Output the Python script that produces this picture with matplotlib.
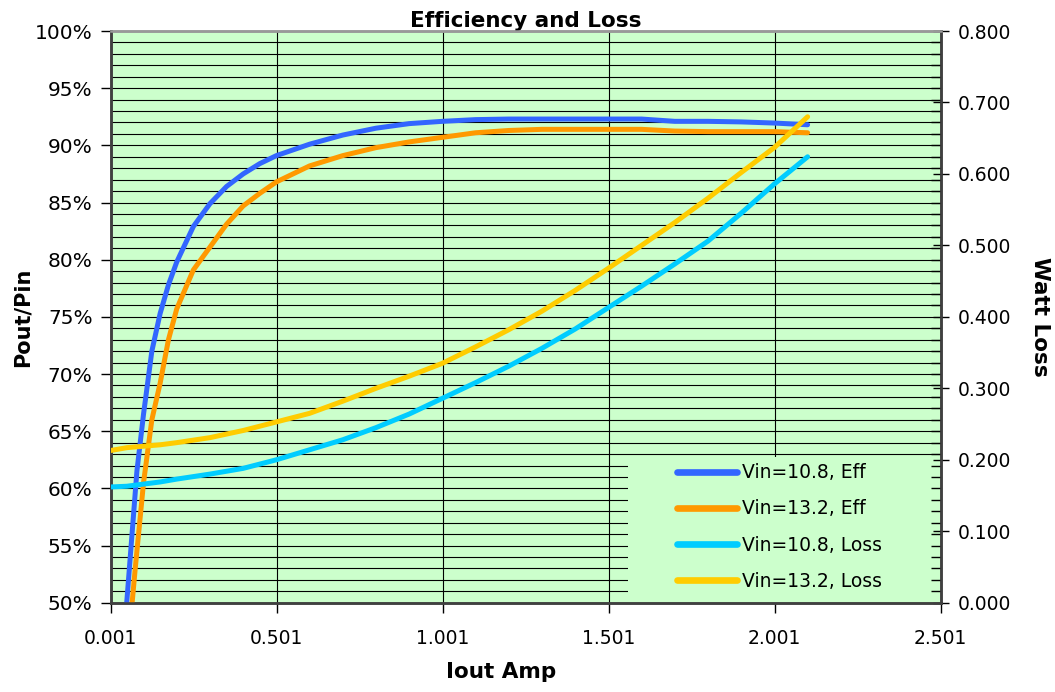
import matplotlib
matplotlib.use('Agg')
import matplotlib.pyplot as plt
from matplotlib.ticker import MultipleLocator, FuncFormatter
from matplotlib.patches import Rectangle

plt.rcParams['font.family'] = ['DejaVu Sans']

# ---------------- data ----------------
x_eff_108 = [0.04, 0.06, 0.08, 0.10, 0.125, 0.15, 0.175, 0.20, 0.25, 0.30, 0.35, 0.40, 0.45, 0.50,
             0.60, 0.70, 0.80, 0.90, 1.00, 1.10, 1.20, 1.30, 1.40, 1.50, 1.60, 1.70, 1.80, 1.90, 2.00, 2.10]
eff_108 = [46.5, 54.0, 61.5, 66.5, 72.0, 75.3, 77.8, 79.8, 82.9, 84.9, 86.4, 87.5, 88.4, 89.1,
           90.1, 90.9, 91.5, 91.9, 92.1, 92.25, 92.3, 92.3, 92.3, 92.3, 92.3, 92.1, 92.1, 92.05, 91.95, 91.8]

x_eff_132 = [0.05, 0.075, 0.10, 0.125, 0.15, 0.175, 0.20, 0.25, 0.30, 0.35, 0.40, 0.45, 0.50,
             0.60, 0.70, 0.80, 0.90, 1.00, 1.10, 1.20, 1.30, 1.40, 1.50, 1.60, 1.70, 1.80, 1.90, 2.00, 2.10]
eff_132 = [45.0, 53.0, 60.5, 66.0, 69.2, 73.0, 75.7, 79.1, 81.1, 83.1, 84.7, 85.8, 86.8,
           88.2, 89.1, 89.8, 90.3, 90.7, 91.1, 91.3, 91.4, 91.4, 91.4, 91.4, 91.25, 91.2, 91.2, 91.2, 91.1]

x_loss = [0.001, 0.05, 0.10, 0.15, 0.20, 0.30, 0.40, 0.50, 0.60, 0.70, 0.80, 0.90, 1.00,
          1.10, 1.20, 1.30, 1.40, 1.50, 1.60, 1.70, 1.80, 1.90, 2.00, 2.10]
loss_108 = [0.162, 0.163, 0.166, 0.169, 0.173, 0.180, 0.188, 0.200, 0.214, 0.228, 0.245, 0.264, 0.286,
            0.308, 0.331, 0.356, 0.383, 0.413, 0.443, 0.474, 0.506, 0.545, 0.586, 0.624]
loss_132 = [0.213, 0.217, 0.219, 0.221, 0.224, 0.231, 0.241, 0.253, 0.265, 0.282, 0.300, 0.317, 0.335,
            0.358, 0.382, 0.408, 0.437, 0.468, 0.500, 0.532, 0.566, 0.602, 0.637, 0.680]

x_ticks = [0.001, 0.501, 1.001, 1.501, 2.001, 2.501]
x_tick_labels = ['0.001', '0.501', '1.001', '1.501', '2.001', '2.501']
series_labels = ['Vin=10.8, Eff', 'Vin=13.2, Eff', 'Vin=10.8, Loss', 'Vin=13.2, Loss']
colors = ['#3366FF', '#FF9900', '#00CCFF', '#FFCC00']

# ---------------- figure ----------------
fig = plt.figure(figsize=(10.55, 6.92), dpi=100)
ax = fig.add_axes([0.1049, 0.129, 0.7868, 0.8262])
ax.set_facecolor('#CCFFCC')

lw = 3.6
l1, = ax.plot(x_eff_108, eff_108, color=colors[0], lw=lw, zorder=3, solid_capstyle='round', label=series_labels[0])
l2, = ax.plot(x_eff_132, eff_132, color=colors[1], lw=lw, zorder=3, solid_capstyle='round', label=series_labels[1])

ax.set_xlim(0.001, 2.501)
ax.set_ylim(50, 100)
ax.set_xticks(x_ticks)
ax.set_xticklabels(x_tick_labels)
ax.yaxis.set_major_locator(MultipleLocator(5))
ax.yaxis.set_minor_locator(MultipleLocator(1))
ax.yaxis.set_major_formatter(FuncFormatter(lambda v, p: f'{v:.0f}%'))
ax.grid(True, which='both', axis='y', color='black', lw=0.8)
ax.grid(True, which='major', axis='x', color='black', lw=0.8)
ax.tick_params(axis='y', which='minor', length=0)
ax.tick_params(axis='both', which='major', direction='out', length=7, width=1, color='black')
ax.tick_params(axis='y', labelsize=14.5, pad=6)
ax.tick_params(axis='x', labelsize=13.5, pad=12)

# legend background (hides gridlines)
ax.add_patch(Rectangle((0.623, 0.0), 0.377, 0.255, transform=ax.transAxes,
                       facecolor='#CCFFCC', edgecolor='none', zorder=1.8))

ax2 = ax.twinx()
l3, = ax2.plot(x_loss, loss_108, color=colors[2], lw=lw, zorder=3, solid_capstyle='round', label=series_labels[2])
l4, = ax2.plot(x_loss, loss_132, color=colors[3], lw=lw, zorder=3, solid_capstyle='round', label=series_labels[3])
ax2.set_ylim(0, 0.8)
ax2.yaxis.set_major_locator(MultipleLocator(0.1))
ax2.yaxis.set_minor_locator(MultipleLocator(0.016))
ax2.yaxis.set_major_formatter(FuncFormatter(lambda v, p: f'{v:.3f}'))
ax2.tick_params(axis='y', which='major', direction='inout', length=12, width=1, labelsize=13.5, pad=6)
ax2.tick_params(axis='y', which='minor', direction='in', length=7, width=1)

for a in (ax, ax2):
    for s in ('left', 'bottom', 'right'):
        a.spines[s].set_color('#404040')
        a.spines[s].set_linewidth(1.8)
    a.spines['top'].set_color('#999999')
    a.spines['top'].set_linewidth(1.8)

ax.set_title('Efficiency and Loss', fontsize=15.5, fontweight='bold', pad=3)
ax.set_xlabel('Iout Amp', fontsize=15.5, fontweight='bold')
ax.xaxis.set_label_coords(0.470, -0.104)
ax.set_ylabel('Pout/Pin', fontsize=15, fontweight='bold')
ax.yaxis.set_label_coords(-0.094, 0.5)
ax2.set_ylabel('Watt Loss', fontsize=15.5, fontweight='bold', rotation=270, va='center')
ax2.yaxis.set_label_coords(1.12, 0.5)

leg = ax2.legend(handles=[l1, l2, l3, l4], loc='upper left', bbox_to_anchor=(0.682, 0.244),
                 frameon=False, fontsize=13.5, handlelength=3.2, handletextpad=0.3,
                 labelspacing=0.92, borderpad=0, borderaxespad=0)
for h in leg.legend_handles:
    h.set_linewidth(4.8)
    h.set_solid_capstyle('round')

fig.savefig('out.png', dpi=100)
